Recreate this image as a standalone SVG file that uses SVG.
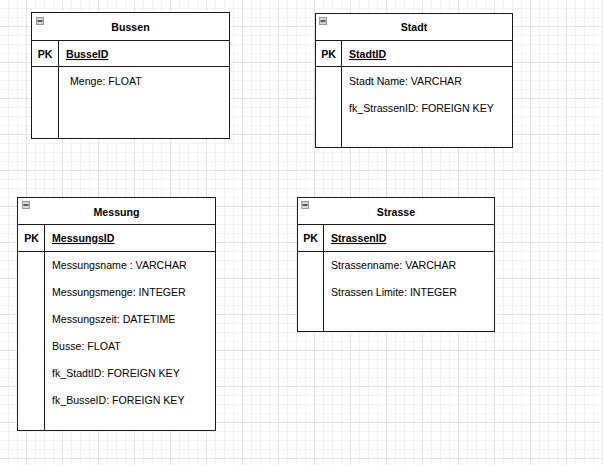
<svg xmlns="http://www.w3.org/2000/svg" width="603" height="465" viewBox="0 0 603 465">
<defs>
<pattern id="grid" patternUnits="userSpaceOnUse" x="26" y="26" width="36" height="36">
<path d="M9.5 0V36M18.5 0V36M27.5 0V36M0 9.5H36M0 18.5H36M0 27.5H36" stroke="#f2f2f2" stroke-width="1" fill="none"/>
<path d="M0.5 0V36M0 0.5H36" stroke="#e2e2e2" stroke-width="1" fill="none"/>
</pattern>
<g id="icon"><rect x="0.5" y="0.5" width="7" height="7" fill="#d6d6d6" stroke="#9a9a9a"/><path d="M1.5 4H6.5" stroke="#333" stroke-width="1.5"/></g>
</defs>
<style>
.box{fill:#fff;stroke:#1a1a1a;stroke-width:1}
.ln{stroke:#1a1a1a;stroke-width:1;fill:none}
text{font-family:"Liberation Sans",Arial,sans-serif;font-size:10.6px;fill:#000}
.t{font-weight:bold;text-anchor:middle}
.pk{font-weight:bold;text-anchor:middle}
.id{font-weight:bold;text-decoration:underline}
</style>
<rect width="603" height="465" fill="#fff"/>
<rect width="603" height="465" fill="url(#grid)"/>
<g id="connectors"></g>
<g id="Bussen">
<rect class="box" x="31.5" y="12.5" width="198" height="126"/>
<path class="ln" d="M31.5 40.5H229.5M31.5 66.5H229.5M58.5 40.5V138.5"/>
<use href="#icon" x="36" y="17"/>
<text class="t" x="130.5" y="31">Bussen</text>
<text class="pk" x="45" y="58">PK</text>
<text class="id" x="66" y="58">BusseID</text>
<text x="70" y="85">Menge: FLOAT</text>
</g>
<g id="Stadt">
<rect class="box" x="315.5" y="13.5" width="197" height="134"/>
<path class="ln" d="M315.5 40.5H512.5M315.5 66.5H512.5M341.5 40.5V147.5"/>
<use href="#icon" x="319" y="17"/>
<text class="t" x="414" y="31">Stadt</text>
<text class="pk" x="328.5" y="58">PK</text>
<text class="id" x="349" y="58">StadtID</text>
<text x="349" y="85">Stadt Name: VARCHAR</text>
<text x="349" y="112">fk_StrassenID: FOREIGN KEY</text>
</g>
<g id="Messung">
<rect class="box" x="17.5" y="197.5" width="198" height="233"/>
<path class="ln" d="M17.5 224.5H215.5M17.5 251.5H215.5M44.5 224.5V430.5"/>
<use href="#icon" x="22" y="201"/>
<text class="t" x="116.5" y="216">Messung</text>
<text class="pk" x="31.5" y="242">PK</text>
<text class="id" x="52" y="242">MessungsID</text>
<text x="52" y="269">Messungsname : VARCHAR</text>
<text x="52" y="296">Messungsmenge: INTEGER</text>
<text x="52" y="323">Messungszeit: DATETIME</text>
<text x="52" y="350">Busse: FLOAT</text>
<text x="52" y="377">fk_StadtID: FOREIGN KEY</text>
<text x="52" y="404">fk_BusseID: FOREIGN KEY</text>
</g>
<g id="Strasse">
<rect class="box" x="297.5" y="197.5" width="197" height="134"/>
<path class="ln" d="M297.5 224.5H494.5M297.5 251.5H494.5M323.5 224.5V331.5"/>
<use href="#icon" x="301" y="201"/>
<text class="t" x="396" y="216">Strasse</text>
<text class="pk" x="310.5" y="242">PK</text>
<text class="id" x="331" y="242">StrassenID</text>
<text x="331" y="269">Strassenname: VARCHAR</text>
<text x="331" y="296">Strassen Limite: INTEGER</text>
</g>
</svg>
